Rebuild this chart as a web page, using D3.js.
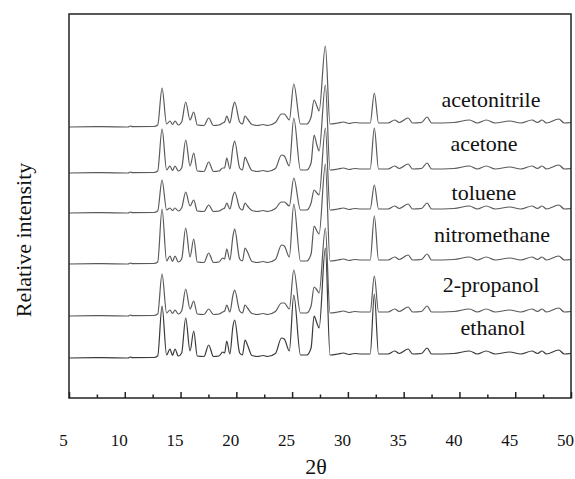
<!DOCTYPE html>
<html>
<head>
<meta charset="utf-8">
<script src="https://cdn.jsdelivr.net/npm/d3@7"></script>
<style>
  body { margin: 0; background: #fff; }
  text { font-family: "Liberation Serif", "DejaVu Serif", serif; fill: #111; }
</style>
</head>
<body>
<div id="chart"></div>
<script>
// samples, top to bottom
const samples = ['acetonitrile', 'acetone', 'toluene', 'nitromethane', '2-propanol', 'ethanol'];
// baseline of each pattern (stack offset, arbitrary units)
const offsets = [271, 225, 185, 134, 82, 40];

// main reflections (2θ) and their heights per sample
const majorPos = [13.34, 14.05, 14.5, 15.46, 16.18, 17.52, 18.78, 19.14, 19.7, 19.85,
  20.78, 21.0, 24.05, 24.3, 25.15, 26.97, 27.22, 27.42, 27.98, 32.37];
const acetonitrileH = [39, 6, 6, 25, 15, 9, 4, 11, 20, 25, 11, 8, 13, 13, 43, 27, 21, 16, 81, 34];
const acetoneH      = [44, 7, 7, 33, 20, 11, 5, 15, 26, 32, 16, 11, 18, 17, 55, 38, 28, 22, 88, 45];
const tolueneH      = [33, 5, 5, 21, 13, 8, 4, 10, 17, 21, 10, 7, 11, 11, 35, 23, 20, 18, 85, 28];
const nitromethaneH = [55, 8, 8, 36, 25, 11, 6, 15, 28, 35, 16, 12, 19, 18, 60, 38, 33, 30, 100, 48];
const propanolH     = [42, 6, 6, 27, 15, 7, 4, 11, 21, 26, 11, 8, 13, 13, 46, 29, 26, 23, 88, 40];
const ethanolH      = [52, 9, 9, 40, 27, 13, 6, 17, 32, 38, 18, 13, 20, 19, 63, 42, 35, 30, 110, 64];
const heights = [acetonitrileH, acetoneH, tolueneH, nitromethaneH, propanolH, ethanolH];

// weak reflections, same in every pattern
const minorPos = [10.5, 22.4, 29.6, 30.6, 34.2, 35.4, 37.1, 40.9, 42.4, 44.5, 46.5, 47.4, 48.9];
const minorH   = [1, 2.5, 5, 4.5, 7, 9, 10, 7, 7, 6, 7, 7, 8];

// background points between reflections
const valleyPos = [5.0, 8.0, 10.3, 10.7, 12.6, 12.95, 13.75, 14.28, 14.8, 15.1, 15.85, 16.5, 17.1,
  17.95, 18.45, 18.95, 19.42, 20.3, 20.55, 21.4, 21.9, 22.8, 23.5, 24.75, 25.75, 26.3, 26.7,
  28.4, 29.1, 30.1, 31.2, 32.0, 32.75, 33.6, 34.6, 35.8, 36.6, 37.5, 39.5, 41.6, 43.2, 45.5,
  47.0, 47.8, 49.4, 50.0];
const valleyH = [0, 0.3, 0, 0.3, 0.5, 2, 3, 2.5, 2, 5, 7, 2, 1.5,
  1.5, 2, 5, 4, 5, 3, 2.5, 1.5, 1.5, 4.5, 7, 3, 3, 10,
  3, 4, 3.5, 4, 4, 4, 4, 4.5, 4, 4.5, 4, 4.5, 4, 4, 4,
  4.5, 4, 4, 4.5];

const xTicks = [5, 10, 15, 20, 25, 30, 35, 40, 45, 50];
const xMinor = [7.5, 12.5, 17.5, 22.5, 27.5, 32.5, 37.5, 42.5, 47.5];

// label anchor points (layout)
const labelPos = [[491, 107], [484, 151], [484, 200], [492, 242], [491, 292], [493, 335]];

const W = 575, H = 479;
const MARGIN = { TOP: 14, BOTTOM: 81, LEFT: 69, RIGHT: 4 };
const FONT = '"Liberation Serif", "DejaVu Serif", serif';

const svg = d3.select('#chart').append('svg')
  .attr('width', W)
  .attr('height', H);

const x = d3.scaleLinear().domain([5, 50]).range([MARGIN.LEFT, W - MARGIN.RIGHT]);
const y = d3.scaleLinear().domain([0, 384]).range([H - MARGIN.BOTTOM, MARGIN.TOP]);

const line = d3.line()
  .x(d => x(d[0]))
  .y(d => y(d[1]))
  .curve(d3.curveMonotoneX);

samples.forEach((name, i) => {
  const pts = [];
  valleyPos.forEach((p, j) => pts.push([p, offsets[i] + valleyH[j]]));
  minorPos.forEach((p, j) => pts.push([p, offsets[i] + minorH[j]]));
  majorPos.forEach((p, j) => pts.push([p, offsets[i] + heights[i][j]]));
  pts.sort((a, b) => a[0] - b[0]);

  svg.append('path')
    .datum(pts)
    .attr('fill', 'none')
    .attr('stroke', i === samples.length - 1 ? '#3a3a3a' : '#5a5a5a')
    .attr('stroke-width', 1.2)
    .attr('d', line);

  svg.append('text')
    .attr('x', labelPos[i][0])
    .attr('y', labelPos[i][1])
    .attr('text-anchor', 'middle')
    .attr('font-family', FONT)
    .attr('font-size', 22)
    .text(name);
});

// frame
svg.append('rect')
  .attr('x', x(5))
  .attr('y', y(384))
  .attr('width', x(50) - x(5))
  .attr('height', y(0) - y(384))
  .attr('fill', 'none')
  .attr('stroke', '#222')
  .attr('stroke-width', 1.5);

const xAxis = svg.append('g')
  .attr('transform', `translate(0, ${y(0)})`)
  .call(d3.axisBottom(x).tickValues(xTicks).tickSize(-6).tickPadding(36));
xAxis.select('.domain').remove();
xAxis.selectAll('line').attr('stroke', '#222').attr('stroke-width', 1.5);
xAxis.selectAll('text')
  .attr('dx', -6)
  .attr('font-size', 17)
  .attr('font-family', FONT)
  .attr('fill', '#111');

const minorAxis = svg.append('g')
  .attr('transform', `translate(0, ${y(0)})`)
  .call(d3.axisBottom(x).tickValues(xMinor).tickSize(-3.5).tickFormat(''));
minorAxis.select('.domain').remove();
minorAxis.selectAll('line').attr('stroke', '#222').attr('stroke-width', 1.5);

svg.append('text')
  .attr('x', 316)
  .attr('y', 474)
  .attr('text-anchor', 'middle')
  .attr('font-family', FONT)
  .attr('font-size', 22)
  .text('2θ');

svg.append('text')
  .attr('transform', 'translate(31, 240) rotate(-90)')
  .attr('text-anchor', 'middle')
  .attr('font-family', FONT)
  .attr('font-size', 22)
  .text('Relative intensity');
</script>
</body>
</html>
